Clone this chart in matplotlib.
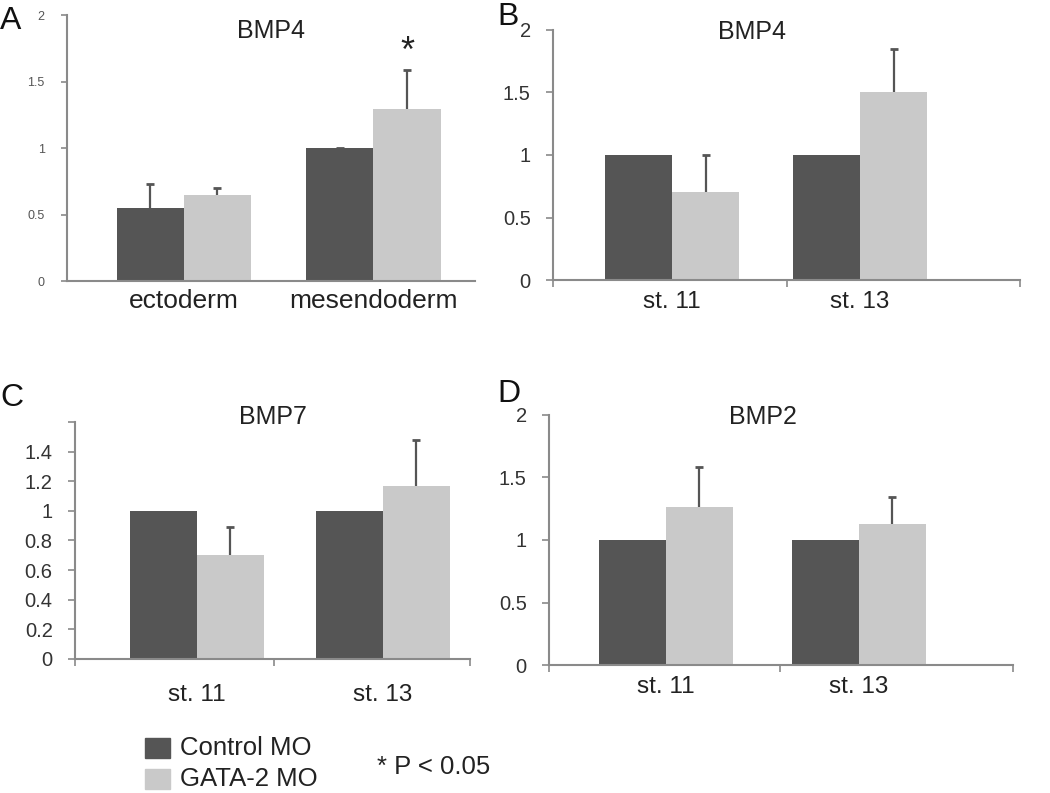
import matplotlib
matplotlib.use("Agg")
import matplotlib.pyplot as plt
import numpy as np

plt.rcParams["font.family"] = ["Liberation Sans", "DejaVu Sans"]

DARK = "#555555"
LIGHT = "#c9c9c9"
AXIS = "#8a8a8a"
TEXT = "#333333"

# data
a_cats = ["ectoderm", "mesendoderm"]
a_control = [0.55, 1.0]
a_control_err = [0.18, 0.0]
a_gata = [0.65, 1.29]
a_gata_err = [0.05, 0.30]

b_cats = ["st. 11", "st. 13"]
b_control = [1.0, 1.0]
b_gata = [0.70, 1.50]
b_gata_err = [0.30, 0.35]

c_cats = ["st. 11", "st. 13"]
c_control = [1.0, 1.0]
c_gata = [0.70, 1.17]
c_gata_err = [0.19, 0.31]

d_cats = ["st. 11", "st. 13"]
d_control = [1.0, 1.0]
d_gata = [1.26, 1.13]
d_gata_err = [0.32, 0.21]

fig = plt.figure(figsize=(10.5, 7.93), dpi=100)


def upper_err(ax, x, y, err):
    # only the upper half of the error bar, cap on top
    _, caps, _ = ax.errorbar(x, y, yerr=[np.zeros(len(y)), err], fmt="none",
                             ecolor=DARK, elinewidth=1.6, capsize=3, capthick=2, zorder=3)
    caps[0].set_visible(False)


def panel(rect, cats, ctrl, gata, gata_err, ylim, yticks, ylabels, width, xlim,
          xticks, title, title_pos, ctrl_err=None, tick_fs=14.5, cat_fs=17.5,
          cat_pad=8, title_fs=18):
    ax = fig.add_axes(rect)
    x = np.arange(len(cats))
    ax.bar(x - width / 2, ctrl, width, color=DARK, zorder=2)
    ax.bar(x + width / 2, gata, width, color=LIGHT, zorder=2)
    upper_err(ax, x + width / 2, gata, gata_err)
    if ctrl_err is not None:
        upper_err(ax, x - width / 2, ctrl, ctrl_err)
    ax.set_ylim(*ylim)
    ax.set_xlim(*xlim)
    ax.set_yticks(yticks)
    ax.set_yticklabels(ylabels, fontsize=tick_fs, color=TEXT)
    ax.set_xticks(x)
    ax.set_xticklabels(cats, fontsize=cat_fs, color="#222222")
    ax.tick_params(axis="x", length=0, pad=cat_pad)
    ax.tick_params(axis="y", length=5, color=AXIS, width=1.2, pad=11)
    if xticks is not None:
        ax.set_xticks(xticks, minor=True)
        ax.tick_params(axis="x", which="minor", length=5, color=AXIS, width=1.2)
    for s in ["top", "right"]:
        ax.spines[s].set_visible(False)
    for s in ["left", "bottom"]:
        ax.spines[s].set_color(AXIS)
        ax.spines[s].set_linewidth(1.5)
    ax.text(title_pos[0], title_pos[1], title, transform=ax.transAxes,
            ha="center", va="center", fontsize=title_fs, color="#222222")
    return ax


# A
axA = panel([0.0638, 0.6456, 0.3886, 0.3354], a_cats, a_control, a_gata, a_gata_err,
            (0, 2), [0, 0.5, 1, 1.5, 2], ["0", "0.5", "1", "1.5", "2"], 0.354,
            (-0.617, 1.536), None, "BMP4", (0.50, 0.94), ctrl_err=a_control_err,
            tick_fs=9, cat_fs=19, cat_pad=6)
axA.tick_params(axis="y", length=4, labelcolor="#555555", pad=12)
axA.text(1 + 0.354 / 2, 1.72, "*", ha="center", va="center",
         fontsize=26, color="#222222")

# B
axB = panel([0.5267, 0.6469, 0.4448, 0.3153], b_cats, b_control, b_gata, b_gata_err,
            (0, 2), [0, 0.5, 1, 1.5, 2], ["0", "0.5", "1", "1.5", "2"], 0.356,
            (-0.633, 1.851), [-0.633, 0.61, 1.851], "BMP4", (0.426, 0.99))

# C
axC = panel([0.0714, 0.169, 0.3762, 0.299], c_cats, c_control, c_gata, c_gata_err,
            (0, 1.6), [0, 0.2, 0.4, 0.6, 0.8, 1.0, 1.2, 1.4, 1.6],
            ["0", "0.2", "0.4", "0.6", "0.8", "1", "1.2", "1.4", ""], 0.36,
            (-0.656, 1.468), [-0.656, 0.414, 1.468], "BMP7", (0.50, 1.02),
            cat_pad=18)

# D
axD = panel([0.5229, 0.1614, 0.4419, 0.3153], d_cats, d_control, d_gata, d_gata_err,
            (0, 2), [0, 0.5, 1, 1.5, 2], ["0", "0.5", "1", "1.5", "2"], 0.347,
            (-0.604, 1.80), [-0.604, 0.593, 1.80], "BMP2", (0.46, 0.99))

# panel letters
for lbl, (px, py) in {"A": (0.0, 0.993), "B": (0.474, 0.998), "C": (0.0, 0.517),
                      "D": (0.474, 0.522)}.items():
    fig.text(px, py, lbl, fontsize=23, color="#111111", ha="left", va="top")

# legend
fig.patches.append(plt.Rectangle((145 / 1050, 1 - 758 / 793), 25 / 1050, 20 / 793,
                                 transform=fig.transFigure, color=DARK))
fig.patches.append(plt.Rectangle((145 / 1050, 1 - 789 / 793), 25 / 1050, 20 / 793,
                                 transform=fig.transFigure, color=LIGHT))
fig.text(180 / 1050, 1 - 748 / 793, "Control MO", fontsize=18.5, color="#222222", va="center")
fig.text(180 / 1050, 1 - 779 / 793, "GATA-2 MO", fontsize=18.5, color="#222222", va="center")
fig.text(377 / 1050, 1 - 767 / 793, "* P < 0.05", fontsize=18.5, color="#222222", va="center")

fig.savefig("out.png", dpi=100)
